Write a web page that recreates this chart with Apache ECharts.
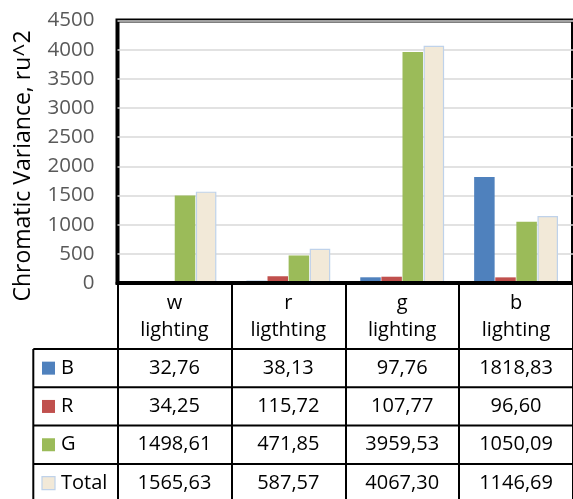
<!DOCTYPE html>
<html>
<head>
<meta charset="utf-8">
<script src="https://cdn.jsdelivr.net/npm/echarts@6/dist/echarts.min.js"></script>
<style>
  html, body { margin: 0; padding: 0; background: #fff; }
  #chart { width: 573px; height: 499px; }
</style>
</head>
<body>
<div id="chart"></div>
<script>
// Lighting conditions (table header) and per-channel variance values
const categories = ['w\nlighting', 'r\nligthting', 'g\nlighting', 'b\nlighting'];
const seriesNames = ['B', 'R', 'G', 'Total'];
const bValues = [32.76, 38.13, 97.76, 1818.83];
const rValues = [34.25, 115.72, 107.77, 96.60];
const gValues = [1498.61, 471.85, 3959.53, 1050.09];
const totalValues = [1565.63, 587.57, 4067.30, 1146.69];
const yMin = 0, yMax = 4500, yStep = 500;
const yTitle = 'Chromatic Variance, ru^2';

const FONT = 'Open Sans';
const colors = {
  B: '#4F81BD',
  R: '#C0504D',
  G: '#9BBB59',
  Total: '#F2E9D8'
};
const totalBorder = '#BFD2EA';

const chart = echarts.init(document.getElementById('chart'), null, { renderer: 'canvas' });

const valueSets = [bValues, rValues, gValues, totalValues];

function barSeries(name, values) {
  const s = {
    name: name,
    type: 'bar',
    data: values,
    barWidth: 20.5,
    barGap: '3%',
    itemStyle: { color: colors[name] }
  };
  if (name === 'Total') {
    s.itemStyle.borderColor = totalBorder;
    s.itemStyle.borderWidth = 1.2;
  }
  return s;
}

chart.setOption({
  animation: false,
  backgroundColor: '#fff',
  textStyle: { fontFamily: FONT },
  grid: {
    left: 117.5, right: -6, top: 20.5, bottom: 216,
    show: true, borderColor: '#000', borderWidth: 4,
    backgroundColor: 'transparent'
  },
  xAxis: {
    type: 'category',
    data: categories,
    z: 5,
    axisLine: { show: true, lineStyle: { color: '#000', width: 4 } },
    axisTick: { show: true, length: 230, interval: 0, lineStyle: { color: '#000', width: 2 } },
    axisLabel: {
      interval: 0, margin: 7, fontFamily: FONT, fontSize: 20, color: '#000',
      lineHeight: 27, align: 'center'
    },
    splitLine: { show: false }
  },
  yAxis: {
    type: 'value',
    min: yMin, max: yMax, interval: yStep,
    axisLine: { show: false },
    axisTick: { show: false },
    axisLabel: {
      margin: 23, fontFamily: FONT, fontSize: 20.5, color: '#595959',
      formatter: v => String(v)
    },
    splitLine: { show: true, lineStyle: { color: '#D9D9D9', width: 1.5 } }
  },
  series: seriesNames.map((n, i) => barSeries(n, valueSets[i]))
});

// Data table under the plot: rows of values aligned to the category axis
const rowTop = 349;
const rowH = 38.3;
const tableLeft = 33.3;
const fmt = v => v.toFixed(2).replace('.', ',');

const g = [];
// axis title
g.push({
  type: 'text',
  x: 23, y: 166, rotation: Math.PI / 2,
  style: {
    text: yTitle, fontFamily: FONT, fontSize: 23, fill: '#000',
    align: 'center', verticalAlign: 'middle'
  }
});
// horizontal rules
for (let r = 0; r <= seriesNames.length; r++) {
  g.push({
    type: 'line',
    shape: { x1: tableLeft, y1: rowTop + r * rowH, x2: 580, y2: rowTop + r * rowH },
    style: { stroke: '#000', lineWidth: 2 }
  });
}
// left edge of the row header column
g.push({
  type: 'line',
  shape: { x1: tableLeft, y1: rowTop, x2: tableLeft, y2: 505 },
  style: { stroke: '#000', lineWidth: 2 }
});
seriesNames.forEach((name, r) => {
  const cy = rowTop + r * rowH + rowH / 2;
  const sq = {
    type: 'rect',
    shape: { x: 42, y: cy - 6.5, width: 13, height: 13 },
    style: { fill: colors[name] }
  };
  if (name === 'Total') { sq.style.stroke = totalBorder; sq.style.lineWidth = 1.2; }
  g.push(sq);
  g.push({
    type: 'text', x: 61, y: cy,
    style: { text: name, fontFamily: FONT, fontSize: 20, fill: '#000', align: 'left', verticalAlign: 'middle' }
  });
  valueSets[r].forEach((v, c) => {
    const cx = chart.convertToPixel({ xAxisIndex: 0 }, c);
    g.push({
      type: 'text', x: cx, y: cy,
      style: { text: fmt(v), fontFamily: FONT, fontSize: 20, fill: '#000', align: 'center', verticalAlign: 'middle' }
    });
  });
});

chart.setOption({ graphic: g });
</script>
</body>
</html>
